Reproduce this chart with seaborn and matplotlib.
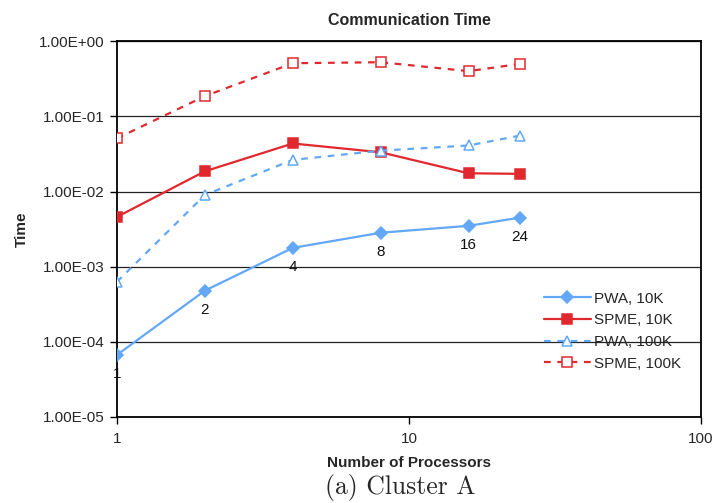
import matplotlib
matplotlib.use("Agg")
import matplotlib.pyplot as plt
import matplotlib.ticker as mticker
import seaborn as sns
import pandas as pd

# ---------------------------------------------------------
# Data
# ---------------------------------------------------------
procs = [1, 2, 4, 8, 16, 24]
pwa_10k = [6.7e-5, 4.8e-4, 1.78e-3, 2.83e-3, 3.5e-3, 4.5e-3]
spme_10k = [4.6e-3, 1.86e-2, 4.36e-2, 3.33e-2, 1.75e-2, 1.72e-2]
pwa_100k = [6.3e-4, 9.0e-3, 2.64e-2, 3.5e-2, 4.1e-2, 5.55e-2]
spme_100k = [5.1e-2, 0.186, 0.51, 0.526, 0.40, 0.50]
point_labels = ["1", "2", "4", "8", "16", "24"]

blue = "#62A8F6"
red = "#E0282E"

sns.set_theme(style="white")
plt.rcParams["font.family"] = ["Liberation Sans", "DejaVu Sans"]

fig = plt.figure(figsize=(7.15, 5.03), dpi=100)
ax = fig.add_axes([0.1636, 0.171, 0.8168, 0.747])

series = [
    ("PWA, 10K", pwa_10k, blue, "D", "-", blue, 6.5),
    ("SPME, 10K", spme_10k, red, "s", "-", red, 7),
    ("PWA, 100K", pwa_100k, blue, "^", (0, (3, 3)), "white", 7),
    ("SPME, 100K", spme_100k, red, "s", (0, (3, 3)), "white", 7.5),
]
for name, vals, col, mk, ls, mfc, ms in series:
    df = pd.DataFrame({"procs": procs, "time": vals})
    sns.lineplot(data=df, x="procs", y="time", ax=ax, color=col, marker=mk,
                 linestyle=ls, markerfacecolor=mfc, markeredgecolor=col,
                 markersize=ms, markeredgewidth=1.1, linewidth=1.6,
                 label=name, zorder=3)

# processor-count labels under the PWA 10K points
for x, y, lab in zip(procs, pwa_10k, point_labels):
    ax.annotate(lab, (x, y), xytext=(0, -9), textcoords="offset points",
                ha="center", va="top", fontsize=11, color="#111111")

ax.set_xscale("log")
ax.set_yscale("log")
ax.set_xlim(1, 100)
ax.set_ylim(1e-5, 1)

ax.xaxis.set_major_locator(mticker.FixedLocator([1, 10, 100]))
ax.xaxis.set_major_formatter(mticker.FixedFormatter(["1", "10", "100"]))
ax.xaxis.set_minor_locator(mticker.NullLocator())
ax.yaxis.set_major_locator(mticker.LogLocator(base=10, numticks=10))
ax.yaxis.set_minor_locator(mticker.NullLocator())
ax.yaxis.set_major_formatter(mticker.FuncFormatter(lambda v, p: "%.2E" % v))
ax.tick_params(axis="both", which="major", direction="out", length=5,
               width=1, color="black", labelsize=11, bottom=True, left=True)
ax.tick_params(axis="x", pad=6)
ax.tick_params(axis="y", pad=4)

ax.grid(axis="y", color="#222222", linewidth=0.9)
ax.grid(axis="x", visible=False)
for side in ["left", "bottom", "top", "right"]:
    ax.spines[side].set_color("black")
    ax.spines[side].set_linewidth(1.3)

ax.set_title("Communication Time", fontsize=11.5, fontweight="bold", pad=12)
ax.set_xlabel("Number of Processors", fontsize=11, fontweight="bold", labelpad=7)
ax.set_ylabel("Time", fontsize=11, fontweight="bold", labelpad=7)

ax.legend(loc="upper left", bbox_to_anchor=(0.72, 0.35), frameon=False,
          fontsize=11, handlelength=3.1, handletextpad=0.2, labelspacing=0.5,
          borderaxespad=0)

fig.text(0.56, 0.017, "(a) Cluster A", ha="center", va="baseline", fontsize=18.5,
         family=["cmr10", "DejaVu Serif"])

fig.savefig("out.png", dpi=100, facecolor="white")
